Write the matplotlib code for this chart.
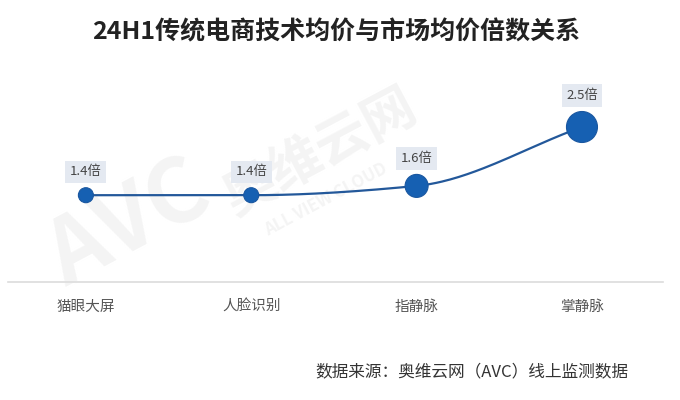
import numpy as np
from matplotlib import pyplot as plt

plt.rcParams['font.family'] = ['Noto Sans CJK SC', 'DejaVu Sans']

categories = ['猫眼大屏', '人脸识别', '指静脉', '掌静脉']
values = [1.40, 1.40, 1.55, 2.50]
value_labels = ['1.4倍', '1.4倍', '1.6倍', '2.5倍']
marker_diam = [15, 15, 23, 31]   # px

title = '24H1传统电商技术均价与市场均价倍数关系'
source = '数据来源：奥维云网（AVC）线上监测数据'

LINE = '#23589a'
DOT = '#1660b2'


def monotone_curve(x, y, n=60):
    """Fritsch-Carlson cubic through the points, for a smooth line"""
    x = np.asarray(x, float)
    y = np.asarray(y, float)
    h = np.diff(x)
    d = np.diff(y) / h
    m = np.zeros_like(y)
    m[0], m[-1] = d[0], d[-1]
    for i in range(1, len(y) - 1):
        if d[i - 1] * d[i] > 0:
            m[i] = 2 / (1 / d[i - 1] + 1 / d[i])
    xs, ys = [], []
    for i in range(len(h)):
        t = np.linspace(0, 1, n)
        h00 = 2 * t**3 - 3 * t**2 + 1
        h10 = t**3 - 2 * t**2 + t
        h01 = -2 * t**3 + 3 * t**2
        h11 = t**3 - t**2
        xs.append(x[i] + t * h[i])
        ys.append(h00 * y[i] + h10 * h[i] * m[i] + h01 * y[i + 1] + h11 * h[i] * m[i + 1])
    return np.concatenate(xs), np.concatenate(ys)


fig = plt.figure(figsize=(6.8, 4.0), dpi=100)
fig.patch.set_facecolor('white')

# watermark, kept behind the axes
wm = dict(fontweight='bold', color='#f4f4f4', rotation=28, ha='center', va='center', zorder=-5)
fig.text(0.19, 0.44, 'AVC', fontsize=64, **wm)
fig.text(0.47, 0.62, '奥维云网', fontsize=38, **wm)
fig.text(0.48, 0.50, 'ALL VIEW CLOUD', fontsize=12, **wm)

ax = fig.add_axes([0.012, 1 - 282 / 400, 0.963, 0.60])
ax.set_zorder(2)
ax.patch.set_alpha(0)
x = np.arange(len(categories))
ax.set_xlim(-0.47, 3.49)
ax.set_ylim(0, 0.60 * 400 / 62)

cx, cy = monotone_curve(x, values)
ax.plot(cx, cy, color=LINE, lw=1.6, zorder=2)
ax.scatter(x, values, s=[(d * 0.72) ** 2 for d in marker_diam], color=DOT,
           edgecolor='#1a57a0', linewidth=0.8, zorder=3)

for xi, v, lab, d in zip(x, values, value_labels, marker_diam):
    ax.annotate(lab, (xi, v), xytext=(0, (d / 2 + 16) * 0.72), textcoords='offset points',
                ha='center', va='center', fontsize=9.5, color='#444444',
                bbox=dict(boxstyle='square,pad=0.35', fc='#e4e9f1', ec='none'), zorder=4)

for s in ['top', 'right', 'left']:
    ax.spines[s].set_visible(False)
ax.spines['bottom'].set_color('#dcdcdc')
ax.spines['bottom'].set_linewidth(1.2)
ax.set_yticks([])
ax.set_xticks(x)
ax.set_xticklabels(categories, fontsize=10.5, color='#555555')
ax.tick_params(axis='x', length=0, pad=13)

fig.text(0.495, 1 - 32 / 400, title, ha='center', va='center', fontsize=18,
         fontweight='bold', color='#222222')
fig.text(0.924, 1 - 372 / 400, source, ha='right', va='center', fontsize=12,
         color='#333333')

fig.savefig('out.png', dpi=100, facecolor='white')
